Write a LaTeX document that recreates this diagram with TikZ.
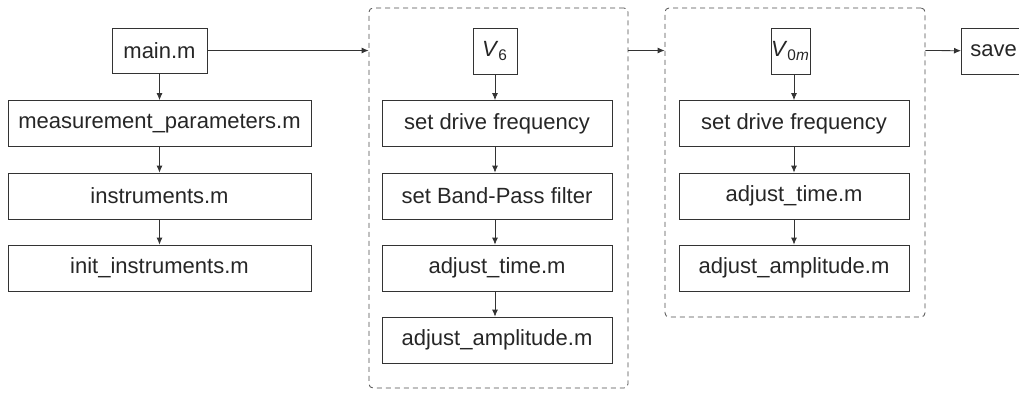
\documentclass[tikz,border=0pt]{standalone}
\usepackage{fontspec}
\setmainfont{Liberation Sans}
\usetikzlibrary{arrows.meta}

\begin{document}
\begin{tikzpicture}[x=0.5pt,y=-0.5pt,
    font=\fontsize{11}{13}\selectfont,
    box/.style={draw=black!80,line width=0.4pt,text=black!85,inner sep=0pt},
    wide/.style={box,minimum width=151.5pt,minimum height=23pt},
    mid/.style={box,minimum width=115pt,minimum height=23pt},
    var/.style={box,minimum height=23pt},
    group/.style={draw=black!70,dashed,dash pattern=on 2.5pt off 2pt,line width=0.4pt,rounded corners=2pt,inner sep=0pt},
    arr/.style={-{Latex[length=3.5pt,width=3pt]},draw=black!80,line width=0.4pt}]
    \useasboundingbox (0,0) rectangle (1019,392);

    % setup
    \node[box,minimum width=47.5pt,minimum height=22.5pt] (main) at (159.5,50.5) {main.m};
    \node[wide] (param) at (159.5,123.5) {measurement\_parameters.m};
    \node[wide] (instr) at (159.5,196) {instruments.m};
    \node[wide] (init) at (159.5,268) {init\_instruments.m};

    % first loop
    \node[group,minimum width=129.5pt,minimum height=190pt] (loopa) at (498.5,198) {};
    \node[var,minimum width=22pt] (va) at (495,51) {\textit{V}\textsubscript{6}};
    \node[mid] (freqa) at (497,123.5) {set drive frequency};
    \node[mid] (band) at (497,196) {set Band-Pass filter};
    \node[mid] (timea) at (497,268) {adjust\_time.m};
    \node[mid] (ampa) at (497,340) {adjust\_amplitude.m};

    % second loop
    \node[group,minimum width=130pt,minimum height=154.5pt] (loopb) at (795,162.5) {};
    \node[var,minimum width=19.5pt] (vb) at (790.5,51) {\textit{V}\textsubscript{0\textit{m}}};
    \node[mid] (freqb) at (794,123.5) {set drive frequency};
    \node[mid] (timeb) at (794,196) {adjust\_time.m};
    \node[mid] (ampb) at (794,268) {adjust\_amplitude.m};

    \node[var,anchor=west,inner xsep=4.5pt,text width=40pt,align=left] (save) at (961,51) {save};

    \draw[arr] (main) -- (main -| loopa.west);
    \draw[arr] (main -| loopa.east) -- (main -| loopb.west);
    \draw[arr] (main -| loopb.east) -- (save);

    \draw[arr] (main) -- (param);
    \draw[arr] (param) -- (instr);
    \draw[arr] (instr) -- (init);

    \draw[arr] (va) -- (va |- freqa.north);
    \draw[arr] (va |- freqa.south) -- (va |- band.north);
    \draw[arr] (va |- band.south) -- (va |- timea.north);
    \draw[arr] (va |- timea.south) -- (va |- ampa.north);

    \draw[arr] (vb.south -| freqb) -- (freqb);
    \draw[arr] (freqb) -- (timeb);
    \draw[arr] (timeb) -- (ampb);
\end{tikzpicture}
\end{document}
